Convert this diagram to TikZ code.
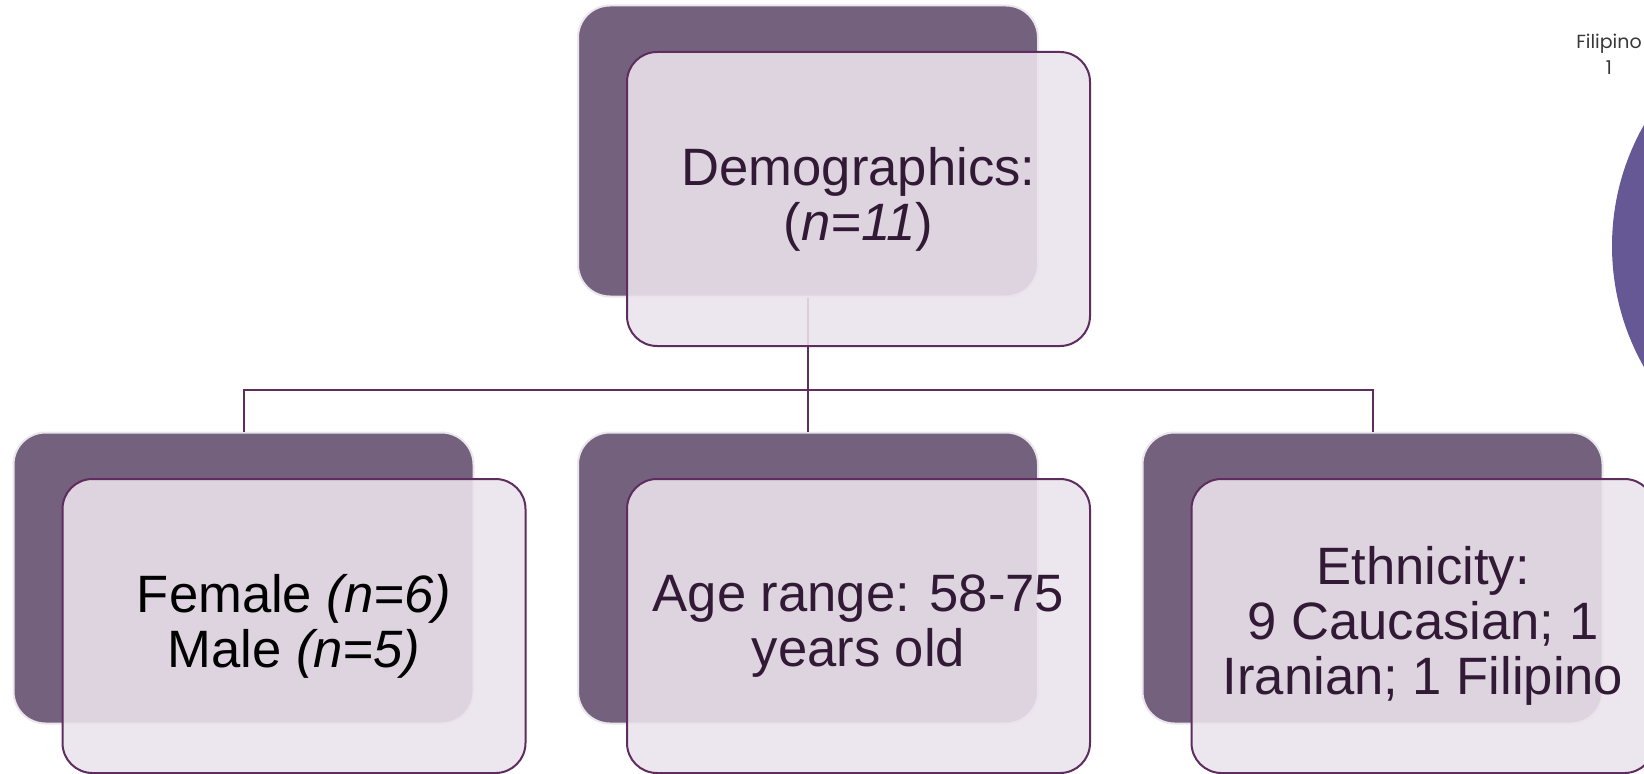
\documentclass[tikz,border=0pt]{standalone}
\usepackage{fontspec}
\setmainfont{Liberation Sans}
\newfontfamily\piefont{Poppins}

\definecolor{backpurple}{HTML}{74617E}
\definecolor{linepurple}{HTML}{5E2C5F}
\definecolor{frontfill}{HTML}{EAE3EC}
\definecolor{textpurple}{HTML}{321A36}
\definecolor{piepurple}{HTML}{665895}

\tikzset{
    back/.style={rounded corners=16pt, fill=backpurple, draw=backpurple!15, line width=1pt,
        minimum width=230pt, minimum height=145.5pt, inner sep=0pt},
    front/.style={rounded corners=15pt, fill=frontfill, fill opacity=0.89, text opacity=1,
        draw=linepurple, line width=1pt, minimum width=231.5pt, minimum height=147pt,
        align=center, text=textpurple, font=\fontsize{26.3}{27.5}\selectfont}
}

\begin{document}
\begin{tikzpicture}[level/.style={sibling distance=282.25pt/#1}, level distance=213.5pt,
    edge from parent/.style={draw=linepurple, line width=1pt},
    edge from parent path={(\tikzparentnode.south) -- ++(0,-46pt) -| (\tikzchildnode.north)}]
    \useasboundingbox (0,0) rectangle (822pt,386.5pt);
    \clip (0,0) rectangle (822pt,386.5pt);
    % piece of the pie chart at the edge
    \fill[piepurple] (928.5pt,263.5pt) circle (122.5pt);
    \node[font=\piefont\fontsize{9.5}{13}\selectfont, text=black!78, align=center] (fil) at (804.5pt,359.5pt) {Filipino\\1};
    \node[back] (root) at (404pt,311pt) {}
        child {node[back] (s) {}}
        child {node[back] (a) {}}
        child {node[back] (e) {}};
    \node[front] (rootf) at ([shift={(25.25pt,-24pt)}]root.center) {Demographics:\\(\textit{n=11})};
    \node[front, text=black] (sf) at ([shift={(25.25pt,-24pt)}]s.center) {Female \textit{(n=6)}\\Male \textit{(n=5)}};
    \node[front] (af) at ([shift={(25.25pt,-24pt)}]a.center) {Age range: 58-75\\years old};
    \node[front] (ef) at ([shift={(25.25pt,-24pt)}]e.center) {Ethnicity:\\9 Caucasian; 1\\Iranian; 1 Filipino};
%    \draw (root) -- (s);
%    \draw (root) -- (e);
\end{tikzpicture}
\end{document}
